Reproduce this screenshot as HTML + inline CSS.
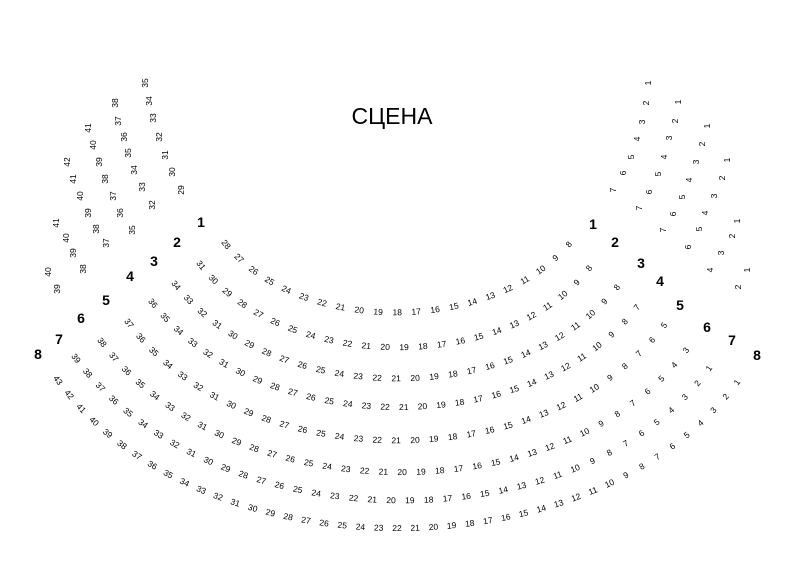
<!DOCTYPE html>
<html><head><meta charset="utf-8"><style>
html,body{margin:0;padding:0;background:#fff;}
svg{display:block}
svg text{font-family:"Liberation Sans",sans-serif;font-size:8.5px;text-anchor:middle;dominant-baseline:central;fill:#000}
svg text.l{font-size:14px;font-weight:bold}
svg text.t{font-size:23px;dominant-baseline:auto}
</style></head><body>
<svg width="800" height="567" viewBox="0 0 800 567" xmlns="http://www.w3.org/2000/svg">
<defs>
<path id="r1" d="M221,238 L226,244 C300,335 490,335 569,244 L574,238"/>
<path id="r2" d="M196.1,258.7 L201,265 C285,374 508,374 589,268 L593.9,261.6"/>
<path id="r3" d="M171,278.8 L176,285 C275,409 519,409 617,287 L622,280.8"/>
<path id="r4" d="M148,296.7 L153,303 C262,441 533,441 637,307 L641.9,300.7"/>
<path id="r5" d="M124.2,316.6 L129,323 C245,479 549,479 664,325 L668.8,318.6"/>
<path id="r6" d="M97.2,335.6 L102,342 C230,514 566,514 686,350 L690.7,343.5"/>
<path id="r7" d="M71.2,351.6 L76,358 C215,546 582,546 709,368 L713.6,361.5"/>
<path id="r8" d="M53.3,373.5 L58,380 C200,577 594,577 737,382 L741.7,375.6"/>
</defs>

<text class="t" x="392" y="124">СЦЕНА</text>

<text class="l" x="201" y="222">1</text><text class="l" x="177" y="242">2</text><text class="l" x="154" y="261">3</text><text class="l" x="130" y="276">4</text>
<text class="l" x="106" y="300">5</text><text class="l" x="81" y="318">6</text><text class="l" x="59" y="339">7</text><text class="l" x="38" y="354">8</text>
<text class="l" x="593" y="224">1</text><text class="l" x="615" y="242">2</text><text class="l" x="641" y="263">3</text><text class="l" x="660" y="281">4</text>
<text class="l" x="680" y="305">5</text><text class="l" x="707" y="327">6</text><text class="l" x="732" y="340">7</text><text class="l" x="757" y="355">8</text>

<text transform="translate(145,83) rotate(-90)">35</text><text transform="translate(149,101) rotate(-90)">34</text><text transform="translate(153,118) rotate(-90)">33</text><text transform="translate(159,137) rotate(-90)">32</text><text transform="translate(165,155) rotate(-90)">31</text><text transform="translate(172,172) rotate(-90)">30</text><text transform="translate(181,190) rotate(-90)">29</text>
<text transform="translate(613,190) rotate(-90)">7</text><text transform="translate(623,173) rotate(-90)">6</text><text transform="translate(631,157) rotate(-90)">5</text><text transform="translate(637,139) rotate(-90)">4</text><text transform="translate(642,122) rotate(-90)">3</text><text transform="translate(646,103) rotate(-90)">2</text><text transform="translate(648,83) rotate(-90)">1</text>
<text transform="translate(115,103) rotate(-90)">38</text><text transform="translate(118,121) rotate(-90)">37</text><text transform="translate(124,137) rotate(-90)">36</text><text transform="translate(128,153) rotate(-90)">35</text><text transform="translate(134,170) rotate(-90)">34</text><text transform="translate(142,187) rotate(-90)">33</text><text transform="translate(152,205) rotate(-90)">32</text>
<text transform="translate(639,208) rotate(-90)">7</text><text transform="translate(649,192) rotate(-90)">6</text><text transform="translate(658,174) rotate(-90)">5</text><text transform="translate(664,157) rotate(-90)">4</text><text transform="translate(669,138) rotate(-90)">3</text><text transform="translate(675,121) rotate(-90)">2</text><text transform="translate(678,102) rotate(-90)">1</text>
<text transform="translate(88,128) rotate(-90)">41</text><text transform="translate(93,145) rotate(-90)">40</text><text transform="translate(99,162) rotate(-90)">39</text><text transform="translate(105,179) rotate(-90)">38</text><text transform="translate(113,196) rotate(-90)">37</text><text transform="translate(120,213) rotate(-90)">36</text><text transform="translate(132,230) rotate(-90)">35</text>
<text transform="translate(663,230) rotate(-90)">7</text><text transform="translate(673,214) rotate(-90)">6</text><text transform="translate(682,197) rotate(-90)">5</text><text transform="translate(689,180) rotate(-90)">4</text><text transform="translate(696,162) rotate(-90)">3</text><text transform="translate(702,144) rotate(-90)">2</text><text transform="translate(707,126) rotate(-90)">1</text>
<text transform="translate(67,162) rotate(-90)">42</text><text transform="translate(73,179) rotate(-90)">41</text><text transform="translate(80,196) rotate(-90)">40</text><text transform="translate(88,213) rotate(-90)">39</text><text transform="translate(96,229) rotate(-90)">38</text><text transform="translate(106,243) rotate(-90)">37</text>
<text transform="translate(688,247) rotate(-90)">6</text><text transform="translate(699,229) rotate(-90)">5</text><text transform="translate(705,213) rotate(-90)">4</text><text transform="translate(714,196) rotate(-90)">3</text><text transform="translate(722,178) rotate(-90)">2</text><text transform="translate(727,160) rotate(-90)">1</text>
<text transform="translate(56,223) rotate(-90)">41</text><text transform="translate(66,238) rotate(-90)">40</text><text transform="translate(73,253) rotate(-90)">39</text><text transform="translate(83,269) rotate(-90)">38</text>
<text transform="translate(710,270) rotate(-90)">4</text><text transform="translate(721,253) rotate(-90)">3</text><text transform="translate(732,236) rotate(-90)">2</text><text transform="translate(737,221) rotate(-90)">1</text>
<text transform="translate(48,272) rotate(-90)">40</text><text transform="translate(57,289) rotate(-90)">39</text>
<text transform="translate(738,287) rotate(-90)">2</text><text transform="translate(747,270) rotate(-90)">1</text>

<text><textPath href="#r1" startOffset="2.07%">28</textPath></text><text><textPath href="#r1" startOffset="6.86%">27</textPath></text><text><textPath href="#r1" startOffset="11.66%">26</textPath></text><text><textPath href="#r1" startOffset="16.45%">25</textPath></text><text><textPath href="#r1" startOffset="21.24%">24</textPath></text><text><textPath href="#r1" startOffset="26.04%">23</textPath></text><text><textPath href="#r1" startOffset="30.83%">22</textPath></text><text><textPath href="#r1" startOffset="35.62%">21</textPath></text><text><textPath href="#r1" startOffset="40.41%">20</textPath></text><text><textPath href="#r1" startOffset="45.21%">19</textPath></text><text><textPath href="#r1" startOffset="50%">18</textPath></text><text><textPath href="#r1" startOffset="54.79%">17</textPath></text><text><textPath href="#r1" startOffset="59.59%">16</textPath></text><text><textPath href="#r1" startOffset="64.38%">15</textPath></text><text><textPath href="#r1" startOffset="69.17%">14</textPath></text><text><textPath href="#r1" startOffset="73.96%">13</textPath></text><text><textPath href="#r1" startOffset="78.76%">12</textPath></text><text><textPath href="#r1" startOffset="83.55%">11</textPath></text><text><textPath href="#r1" startOffset="88.34%">10</textPath></text><text><textPath href="#r1" startOffset="93.14%">9</textPath></text><text><textPath href="#r1" startOffset="97.93%">8</textPath></text>

<text><textPath href="#r2" startOffset="1.82%">31</textPath></text><text><textPath href="#r2" startOffset="6.01%">30</textPath></text><text><textPath href="#r2" startOffset="10.2%">29</textPath></text><text><textPath href="#r2" startOffset="14.39%">28</textPath></text><text><textPath href="#r2" startOffset="18.58%">27</textPath></text><text><textPath href="#r2" startOffset="22.77%">26</textPath></text><text><textPath href="#r2" startOffset="26.96%">25</textPath></text><text><textPath href="#r2" startOffset="31.15%">24</textPath></text><text><textPath href="#r2" startOffset="35.34%">23</textPath></text><text><textPath href="#r2" startOffset="39.53%">22</textPath></text><text><textPath href="#r2" startOffset="43.72%">21</textPath></text><text><textPath href="#r2" startOffset="47.91%">20</textPath></text><text><textPath href="#r2" startOffset="52.1%">19</textPath></text><text><textPath href="#r2" startOffset="56.29%">18</textPath></text><text><textPath href="#r2" startOffset="60.48%">17</textPath></text><text><textPath href="#r2" startOffset="64.67%">16</textPath></text><text><textPath href="#r2" startOffset="68.86%">15</textPath></text><text><textPath href="#r2" startOffset="73.05%">14</textPath></text><text><textPath href="#r2" startOffset="77.24%">13</textPath></text><text><textPath href="#r2" startOffset="81.43%">12</textPath></text><text><textPath href="#r2" startOffset="85.62%">11</textPath></text><text><textPath href="#r2" startOffset="89.81%">10</textPath></text><text><textPath href="#r2" startOffset="94%">9</textPath></text><text><textPath href="#r2" startOffset="98.19%">8</textPath></text>

<text><textPath href="#r3" startOffset="1.61%">34</textPath></text><text><textPath href="#r3" startOffset="5.33%">33</textPath></text><text><textPath href="#r3" startOffset="9.05%">32</textPath></text><text><textPath href="#r3" startOffset="12.78%">31</textPath></text><text><textPath href="#r3" startOffset="16.5%">30</textPath></text><text><textPath href="#r3" startOffset="20.22%">29</textPath></text><text><textPath href="#r3" startOffset="23.94%">28</textPath></text><text><textPath href="#r3" startOffset="27.67%">27</textPath></text><text><textPath href="#r3" startOffset="31.39%">26</textPath></text><text><textPath href="#r3" startOffset="35.11%">25</textPath></text><text><textPath href="#r3" startOffset="38.83%">24</textPath></text><text><textPath href="#r3" startOffset="42.55%">23</textPath></text><text><textPath href="#r3" startOffset="46.28%">22</textPath></text><text><textPath href="#r3" startOffset="50%">21</textPath></text><text><textPath href="#r3" startOffset="53.72%">20</textPath></text><text><textPath href="#r3" startOffset="57.45%">19</textPath></text><text><textPath href="#r3" startOffset="61.17%">18</textPath></text><text><textPath href="#r3" startOffset="64.89%">17</textPath></text><text><textPath href="#r3" startOffset="68.61%">16</textPath></text><text><textPath href="#r3" startOffset="72.33%">15</textPath></text><text><textPath href="#r3" startOffset="76.06%">14</textPath></text><text><textPath href="#r3" startOffset="79.78%">13</textPath></text><text><textPath href="#r3" startOffset="83.5%">12</textPath></text><text><textPath href="#r3" startOffset="87.22%">11</textPath></text><text><textPath href="#r3" startOffset="90.95%">10</textPath></text><text><textPath href="#r3" startOffset="94.67%">9</textPath></text><text><textPath href="#r3" startOffset="98.39%">8</textPath></text>

<text><textPath href="#r4" startOffset="1.47%">36</textPath></text><text><textPath href="#r4" startOffset="4.82%">35</textPath></text><text><textPath href="#r4" startOffset="8.16%">34</textPath></text><text><textPath href="#r4" startOffset="11.51%">33</textPath></text><text><textPath href="#r4" startOffset="14.86%">32</textPath></text><text><textPath href="#r4" startOffset="18.21%">31</textPath></text><text><textPath href="#r4" startOffset="21.55%">30</textPath></text><text><textPath href="#r4" startOffset="24.9%">29</textPath></text><text><textPath href="#r4" startOffset="28.25%">28</textPath></text><text><textPath href="#r4" startOffset="31.6%">27</textPath></text><text><textPath href="#r4" startOffset="34.94%">26</textPath></text><text><textPath href="#r4" startOffset="38.29%">25</textPath></text><text><textPath href="#r4" startOffset="41.64%">24</textPath></text><text><textPath href="#r4" startOffset="44.98%">23</textPath></text><text><textPath href="#r4" startOffset="48.33%">22</textPath></text><text><textPath href="#r4" startOffset="51.67%">21</textPath></text><text><textPath href="#r4" startOffset="55.02%">20</textPath></text><text><textPath href="#r4" startOffset="58.36%">19</textPath></text><text><textPath href="#r4" startOffset="61.71%">18</textPath></text><text><textPath href="#r4" startOffset="65.06%">17</textPath></text><text><textPath href="#r4" startOffset="68.4%">16</textPath></text><text><textPath href="#r4" startOffset="71.75%">15</textPath></text><text><textPath href="#r4" startOffset="75.1%">14</textPath></text><text><textPath href="#r4" startOffset="78.45%">13</textPath></text><text><textPath href="#r4" startOffset="81.79%">12</textPath></text><text><textPath href="#r4" startOffset="85.14%">11</textPath></text><text><textPath href="#r4" startOffset="88.49%">10</textPath></text><text><textPath href="#r4" startOffset="91.84%">9</textPath></text><text><textPath href="#r4" startOffset="95.18%">8</textPath></text><text><textPath href="#r4" startOffset="98.53%">7</textPath></text>

<text><textPath href="#r5" startOffset="1.33%">37</textPath></text><text><textPath href="#r5" startOffset="4.37%">36</textPath></text><text><textPath href="#r5" startOffset="7.41%">35</textPath></text><text><textPath href="#r5" startOffset="10.46%">34</textPath></text><text><textPath href="#r5" startOffset="13.5%">33</textPath></text><text><textPath href="#r5" startOffset="16.54%">32</textPath></text><text><textPath href="#r5" startOffset="19.58%">31</textPath></text><text><textPath href="#r5" startOffset="22.62%">30</textPath></text><text><textPath href="#r5" startOffset="25.67%">29</textPath></text><text><textPath href="#r5" startOffset="28.71%">28</textPath></text><text><textPath href="#r5" startOffset="31.75%">27</textPath></text><text><textPath href="#r5" startOffset="34.79%">26</textPath></text><text><textPath href="#r5" startOffset="37.83%">25</textPath></text><text><textPath href="#r5" startOffset="40.87%">24</textPath></text><text><textPath href="#r5" startOffset="43.92%">23</textPath></text><text><textPath href="#r5" startOffset="46.96%">22</textPath></text><text><textPath href="#r5" startOffset="50%">21</textPath></text><text><textPath href="#r5" startOffset="53.04%">20</textPath></text><text><textPath href="#r5" startOffset="56.08%">19</textPath></text><text><textPath href="#r5" startOffset="59.13%">18</textPath></text><text><textPath href="#r5" startOffset="62.17%">17</textPath></text><text><textPath href="#r5" startOffset="65.21%">16</textPath></text><text><textPath href="#r5" startOffset="68.25%">15</textPath></text><text><textPath href="#r5" startOffset="71.29%">14</textPath></text><text><textPath href="#r5" startOffset="74.33%">13</textPath></text><text><textPath href="#r5" startOffset="77.38%">12</textPath></text><text><textPath href="#r5" startOffset="80.42%">11</textPath></text><text><textPath href="#r5" startOffset="83.46%">10</textPath></text><text><textPath href="#r5" startOffset="86.5%">9</textPath></text><text><textPath href="#r5" startOffset="89.54%">8</textPath></text><text><textPath href="#r5" startOffset="92.59%">7</textPath></text><text><textPath href="#r5" startOffset="95.63%">6</textPath></text><text><textPath href="#r5" startOffset="98.67%">5</textPath></text>

<text><textPath href="#r6" startOffset="1.22%">38</textPath></text><text><textPath href="#r6" startOffset="4.01%">37</textPath></text><text><textPath href="#r6" startOffset="6.79%">36</textPath></text><text><textPath href="#r6" startOffset="9.58%">35</textPath></text><text><textPath href="#r6" startOffset="12.37%">34</textPath></text><text><textPath href="#r6" startOffset="15.16%">33</textPath></text><text><textPath href="#r6" startOffset="17.94%">32</textPath></text><text><textPath href="#r6" startOffset="20.73%">31</textPath></text><text><textPath href="#r6" startOffset="23.52%">30</textPath></text><text><textPath href="#r6" startOffset="26.31%">29</textPath></text><text><textPath href="#r6" startOffset="29.09%">28</textPath></text><text><textPath href="#r6" startOffset="31.88%">27</textPath></text><text><textPath href="#r6" startOffset="34.67%">26</textPath></text><text><textPath href="#r6" startOffset="37.46%">25</textPath></text><text><textPath href="#r6" startOffset="40.24%">24</textPath></text><text><textPath href="#r6" startOffset="43.03%">23</textPath></text><text><textPath href="#r6" startOffset="45.82%">22</textPath></text><text><textPath href="#r6" startOffset="48.61%">21</textPath></text><text><textPath href="#r6" startOffset="51.39%">20</textPath></text><text><textPath href="#r6" startOffset="54.18%">19</textPath></text><text><textPath href="#r6" startOffset="56.97%">18</textPath></text><text><textPath href="#r6" startOffset="59.76%">17</textPath></text><text><textPath href="#r6" startOffset="62.54%">16</textPath></text><text><textPath href="#r6" startOffset="65.33%">15</textPath></text><text><textPath href="#r6" startOffset="68.12%">14</textPath></text><text><textPath href="#r6" startOffset="70.91%">13</textPath></text><text><textPath href="#r6" startOffset="73.69%">12</textPath></text><text><textPath href="#r6" startOffset="76.48%">11</textPath></text><text><textPath href="#r6" startOffset="79.27%">10</textPath></text><text><textPath href="#r6" startOffset="82.06%">9</textPath></text><text><textPath href="#r6" startOffset="84.84%">8</textPath></text><text><textPath href="#r6" startOffset="87.63%">7</textPath></text><text><textPath href="#r6" startOffset="90.42%">6</textPath></text><text><textPath href="#r6" startOffset="93.21%">5</textPath></text><text><textPath href="#r6" startOffset="95.99%">4</textPath></text><text><textPath href="#r6" startOffset="98.78%">3</textPath></text>

<text><textPath href="#r7" startOffset="1.13%">39</textPath></text><text><textPath href="#r7" startOffset="3.7%">38</textPath></text><text><textPath href="#r7" startOffset="6.27%">37</textPath></text><text><textPath href="#r7" startOffset="8.84%">36</textPath></text><text><textPath href="#r7" startOffset="11.42%">35</textPath></text><text><textPath href="#r7" startOffset="13.99%">34</textPath></text><text><textPath href="#r7" startOffset="16.56%">33</textPath></text><text><textPath href="#r7" startOffset="19.13%">32</textPath></text><text><textPath href="#r7" startOffset="21.71%">31</textPath></text><text><textPath href="#r7" startOffset="24.28%">30</textPath></text><text><textPath href="#r7" startOffset="26.85%">29</textPath></text><text><textPath href="#r7" startOffset="29.42%">28</textPath></text><text><textPath href="#r7" startOffset="32%">27</textPath></text><text><textPath href="#r7" startOffset="34.57%">26</textPath></text><text><textPath href="#r7" startOffset="37.14%">25</textPath></text><text><textPath href="#r7" startOffset="39.71%">24</textPath></text><text><textPath href="#r7" startOffset="42.28%">23</textPath></text><text><textPath href="#r7" startOffset="44.86%">22</textPath></text><text><textPath href="#r7" startOffset="47.43%">21</textPath></text><text><textPath href="#r7" startOffset="50%">20</textPath></text><text><textPath href="#r7" startOffset="52.57%">19</textPath></text><text><textPath href="#r7" startOffset="55.14%">18</textPath></text><text><textPath href="#r7" startOffset="57.72%">17</textPath></text><text><textPath href="#r7" startOffset="60.29%">16</textPath></text><text><textPath href="#r7" startOffset="62.86%">15</textPath></text><text><textPath href="#r7" startOffset="65.43%">14</textPath></text><text><textPath href="#r7" startOffset="68%">13</textPath></text><text><textPath href="#r7" startOffset="70.58%">12</textPath></text><text><textPath href="#r7" startOffset="73.15%">11</textPath></text><text><textPath href="#r7" startOffset="75.72%">10</textPath></text><text><textPath href="#r7" startOffset="78.29%">9</textPath></text><text><textPath href="#r7" startOffset="80.87%">8</textPath></text><text><textPath href="#r7" startOffset="83.44%">7</textPath></text><text><textPath href="#r7" startOffset="86.01%">6</textPath></text><text><textPath href="#r7" startOffset="88.58%">5</textPath></text><text><textPath href="#r7" startOffset="91.16%">4</textPath></text><text><textPath href="#r7" startOffset="93.73%">3</textPath></text><text><textPath href="#r7" startOffset="96.3%">2</textPath></text><text><textPath href="#r7" startOffset="98.87%">1</textPath></text>

<text><textPath href="#r8" startOffset="1.05%">43</textPath></text><text><textPath href="#r8" startOffset="3.38%">42</textPath></text><text><textPath href="#r8" startOffset="5.71%">41</textPath></text><text><textPath href="#r8" startOffset="8.04%">40</textPath></text><text><textPath href="#r8" startOffset="10.37%">39</textPath></text><text><textPath href="#r8" startOffset="12.7%">38</textPath></text><text><textPath href="#r8" startOffset="15.04%">37</textPath></text><text><textPath href="#r8" startOffset="17.37%">36</textPath></text><text><textPath href="#r8" startOffset="19.7%">35</textPath></text><text><textPath href="#r8" startOffset="22.03%">34</textPath></text><text><textPath href="#r8" startOffset="24.36%">33</textPath></text><text><textPath href="#r8" startOffset="26.69%">32</textPath></text><text><textPath href="#r8" startOffset="29.02%">31</textPath></text><text><textPath href="#r8" startOffset="31.35%">30</textPath></text><text><textPath href="#r8" startOffset="33.68%">29</textPath></text><text><textPath href="#r8" startOffset="36.01%">28</textPath></text><text><textPath href="#r8" startOffset="38.34%">27</textPath></text><text><textPath href="#r8" startOffset="40.67%">26</textPath></text><text><textPath href="#r8" startOffset="43.01%">25</textPath></text><text><textPath href="#r8" startOffset="45.34%">24</textPath></text><text><textPath href="#r8" startOffset="47.67%">23</textPath></text><text><textPath href="#r8" startOffset="50%">22</textPath></text><text><textPath href="#r8" startOffset="52.33%">21</textPath></text><text><textPath href="#r8" startOffset="54.66%">20</textPath></text><text><textPath href="#r8" startOffset="56.99%">19</textPath></text><text><textPath href="#r8" startOffset="59.33%">18</textPath></text><text><textPath href="#r8" startOffset="61.66%">17</textPath></text><text><textPath href="#r8" startOffset="63.99%">16</textPath></text><text><textPath href="#r8" startOffset="66.32%">15</textPath></text><text><textPath href="#r8" startOffset="68.65%">14</textPath></text><text><textPath href="#r8" startOffset="70.98%">13</textPath></text><text><textPath href="#r8" startOffset="73.31%">12</textPath></text><text><textPath href="#r8" startOffset="75.64%">11</textPath></text><text><textPath href="#r8" startOffset="77.97%">10</textPath></text><text><textPath href="#r8" startOffset="80.3%">9</textPath></text><text><textPath href="#r8" startOffset="82.63%">8</textPath></text><text><textPath href="#r8" startOffset="84.96%">7</textPath></text><text><textPath href="#r8" startOffset="87.3%">6</textPath></text><text><textPath href="#r8" startOffset="89.63%">5</textPath></text><text><textPath href="#r8" startOffset="91.96%">4</textPath></text><text><textPath href="#r8" startOffset="94.29%">3</textPath></text><text><textPath href="#r8" startOffset="96.62%">2</textPath></text><text><textPath href="#r8" startOffset="98.95%">1</textPath></text>
</svg>
</body></html>
